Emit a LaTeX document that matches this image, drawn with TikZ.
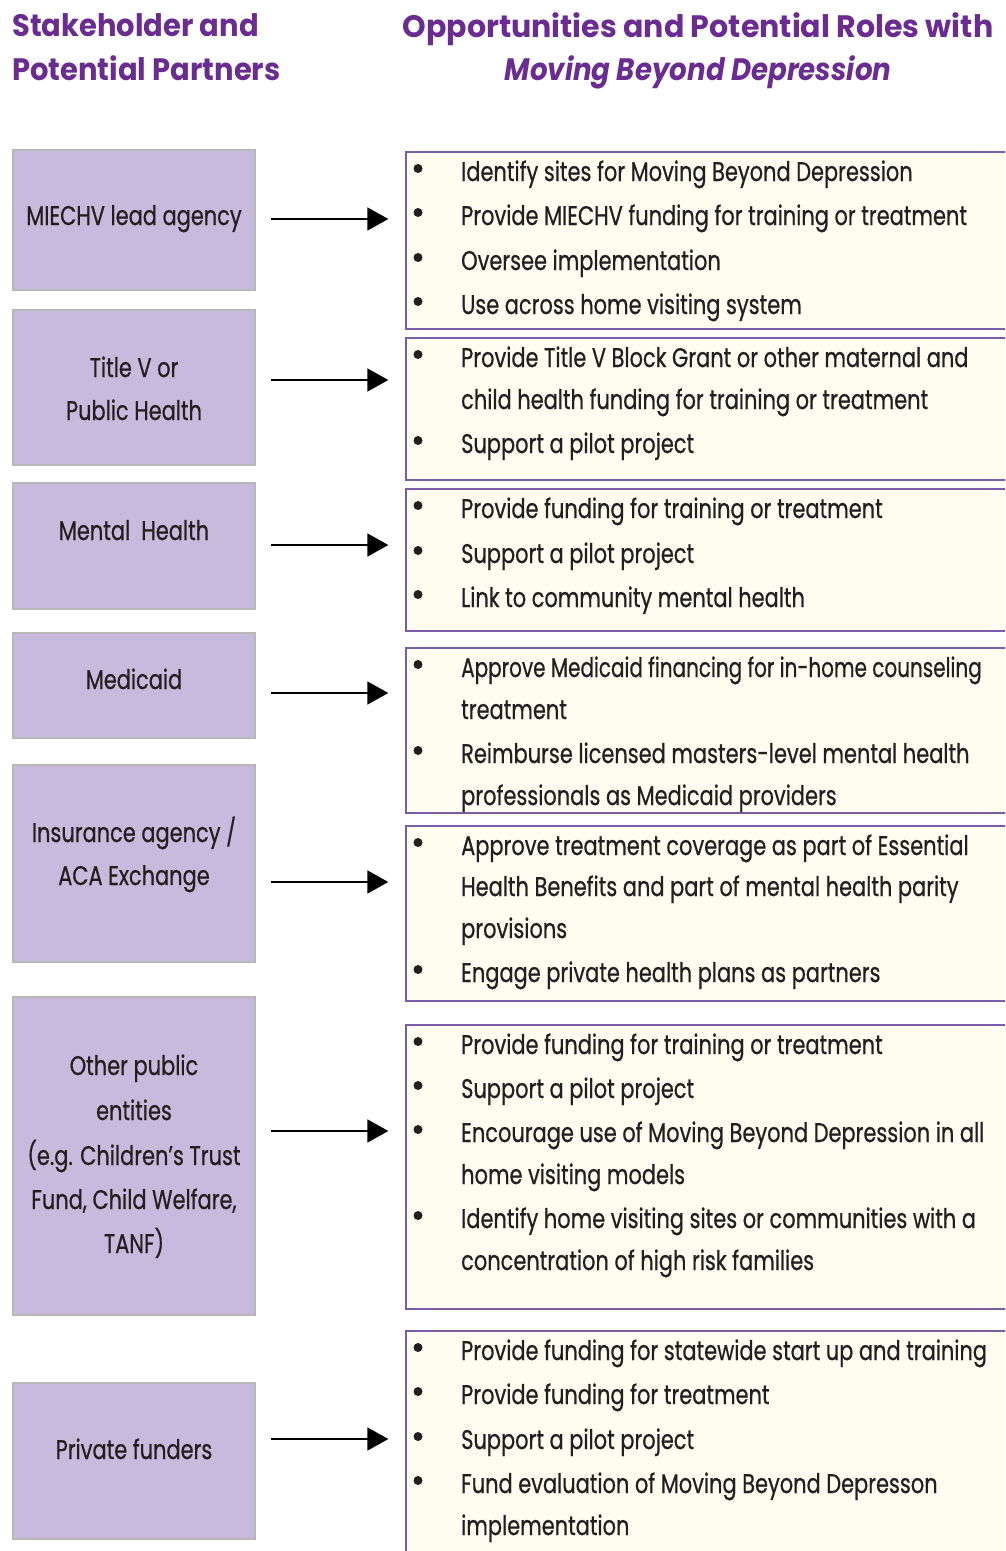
\documentclass[tikz,border=0pt]{standalone}
\usepackage{fontspec}
\usetikzlibrary{arrows.meta}
\newfontfamily\bodyf{Poppins}[FakeStretch=0.775, FakeBold=0.6]
\newfontfamily\headf{Poppins}[FakeStretch=0.97]
\newfontfamily\headlf{Poppins}[FakeStretch=0.935]
\definecolor{lavfill}{HTML}{C6BBDC}
\definecolor{lavline}{HTML}{B8B8B8}
\definecolor{creamfill}{HTML}{FFFDF0}
\definecolor{purpline}{HTML}{7B5CA8}
\definecolor{headpurple}{HTML}{6B2C91}
\definecolor{txt}{HTML}{231F20}
\tikzset{
  lbox/.style={draw=lavline, fill=lavfill, line width=2.2pt, inner sep=0pt},
  rbox/.style={draw=purpline, fill=creamfill, line width=1.4pt, inner sep=0pt},
  ltext/.style={anchor=base, inner sep=0pt, text=txt, font=\bodyf\fontsize{27}{30}\selectfont},
  rtext/.style={anchor=base west, inner sep=0pt, text=txt, font=\bodyf\fontsize{27}{30}\selectfont},
  dot/.style={circle, fill=txt, inner sep=0pt, minimum size=9pt},
  htext/.style={anchor=base west, inner sep=0pt, text=headpurple, font=\headf\bfseries\fontsize{31}{34}\selectfont},
  hltext/.style={anchor=base west, inner sep=0pt, text=headpurple, font=\headlf\bfseries\fontsize{31}{34}\selectfont},
  arr/.style={line width=1.8pt, -{Triangle[length=21pt,width=23pt]}, shorten <=15pt, shorten >=17pt}
}
\newcommand\ritem[3]{\node[dot] (#1b) at (418,#2-12.5) {}; \node[rtext] (#1) at (461,#2) {#3};}
\newcommand\rcont[3]{\node[rtext] (#1) at (461,#2) {#3};}
\begin{document}
\begin{tikzpicture}[x=1pt,y=-1pt]
\useasboundingbox (0,0) rectangle (1005,1551);
\clip (0,0) rectangle (1005,1551);
% headers
\node[hltext] (h1) at (12,36) {Stakeholder and};
\node[hltext] (h2) at (12,80) {Potential Partners};
\node[htext, anchor=base] (h3) at (698,37) {Opportunities and Potential Roles with};
\node[htext, anchor=base] (h4) at (698,80) {\scalebox{0.92}[1]{\itshape Moving Beyond Depression}};
% left boxes
\node[lbox, minimum width=242pt, minimum height=140pt] (l1) at (134,220) {};
\node[lbox, minimum width=242pt, minimum height=155pt] (l2) at (134,387.5) {};
\node[lbox, minimum width=242pt, minimum height=126pt] (l3) at (134,546) {};
\node[lbox, minimum width=242pt, minimum height=105pt] (l4) at (134,685.5) {};
\node[lbox, minimum width=242pt, minimum height=197pt] (l5) at (134,863.5) {};
\node[lbox, minimum width=242pt, minimum height=318pt] (l6) at (134,1156) {};
\node[lbox, minimum width=242pt, minimum height=156pt] (l7) at (134,1461) {};
\node[ltext] (t1) at (134,225) {MIECHV lead agency};
\node[ltext] (t2a) at (134,377) {Title V or};
\node[ltext] (t2b) at (134,420) {Public Health};
\node[ltext] (t3) at (134,540) {Mental\ \ Health};
\node[ltext] (t4) at (134,689) {Medicaid};
\node[ltext] (t5a) at (134,842) {Insurance agency /};
\node[ltext] (t5b) at (134,885) {ACA Exchange};
\node[ltext] (t6a) at (134,1075) {Other public};
\node[ltext] (t6b) at (134,1120) {entities};
\node[ltext] (t6c) at (134,1165) {(e.g. Children’s Trust};
\node[ltext] (t6d) at (134,1209) {Fund, Child Welfare,};
\node[ltext] (t6e) at (134,1253) {TANF)};
\node[ltext] (t7) at (134,1459) {Private funders};
% right boxes
\node[rbox, minimum width=604pt, minimum height=177pt] (r1) at (708,240.5) {};
\node[rbox, minimum width=604pt, minimum height=142pt] (r2) at (708,409) {};
\node[rbox, minimum width=604pt, minimum height=142pt] (r3) at (708,560) {};
\node[rbox, minimum width=604pt, minimum height=165pt] (r4) at (708,730.5) {};
\node[rbox, minimum width=604pt, minimum height=175pt] (r5) at (708,913.5) {};
\node[rbox, minimum width=604pt, minimum height=284pt] (r6) at (708,1167) {};
\node[rbox, minimum width=604pt, minimum height=240pt] (r7) at (708,1451) {};
% right texts
\ritem{a1}{181}{Identify sites for Moving Beyond Depression}
\ritem{a2}{225}{Provide MIECHV funding for training or treatment}
\ritem{a3}{270}{Oversee implementation}
\ritem{a4}{314}{Use across home visiting system}
\ritem{b1}{367}{Provide Title V Block Grant or other maternal and}
\rcont{b2}{409}{child health funding for training or treatment}
\ritem{b3}{453}{Support a pilot project}
\ritem{c1}{518}{Provide funding for training or treatment}
\ritem{c2}{563}{Support a pilot project}
\ritem{c3}{607}{Link to community mental health}
\ritem{d1}{677}{\scalebox{0.955}[1]{Approve Medicaid financing for in-home counseling}}
\rcont{d2}{719}{treatment}
\ritem{d3}{763}{Reimburse licensed masters-level mental health}
\rcont{d4}{805}{professionals as Medicaid providers}
\ritem{e1}{855}{Approve treatment coverage as part of Essential}
\rcont{e2}{896}{Health Benefits and part of mental health parity}
\rcont{e3}{938}{provisions}
\ritem{e4}{982}{Engage private health plans as partners}
\ritem{f1}{1054}{Provide funding for training or treatment}
\ritem{f2}{1098}{Support a pilot project}
\ritem{f3}{1142}{Encourage use of Moving Beyond Depression in all}
\rcont{f4}{1184}{home visiting models}
\ritem{f5}{1228}{Identify home visiting sites or communities with a}
\rcont{f6}{1270}{concentration of high risk families}
\ritem{g1}{1360}{Provide funding for statewide start up and training}
\ritem{g2}{1404}{Provide funding for treatment}
\ritem{g3}{1449}{Support a pilot project}
\ritem{g4}{1493}{Fund evaluation of Moving Beyond Depresson}
\rcont{g5}{1535}{implementation}
% arrows
\coordinate (y1) at (0,219);
\coordinate (y2) at (0,380);
\coordinate (y3) at (0,545);
\coordinate (y4) at (0,693);
\coordinate (y5) at (0,882);
\coordinate (y6) at (0,1131);
\coordinate (y7) at (0,1439);
\foreach \i in {1,...,7}{
  \draw[arr] (l\i.east |- y\i) -- (r\i.west |- y\i);
}
\end{tikzpicture}
\end{document}
